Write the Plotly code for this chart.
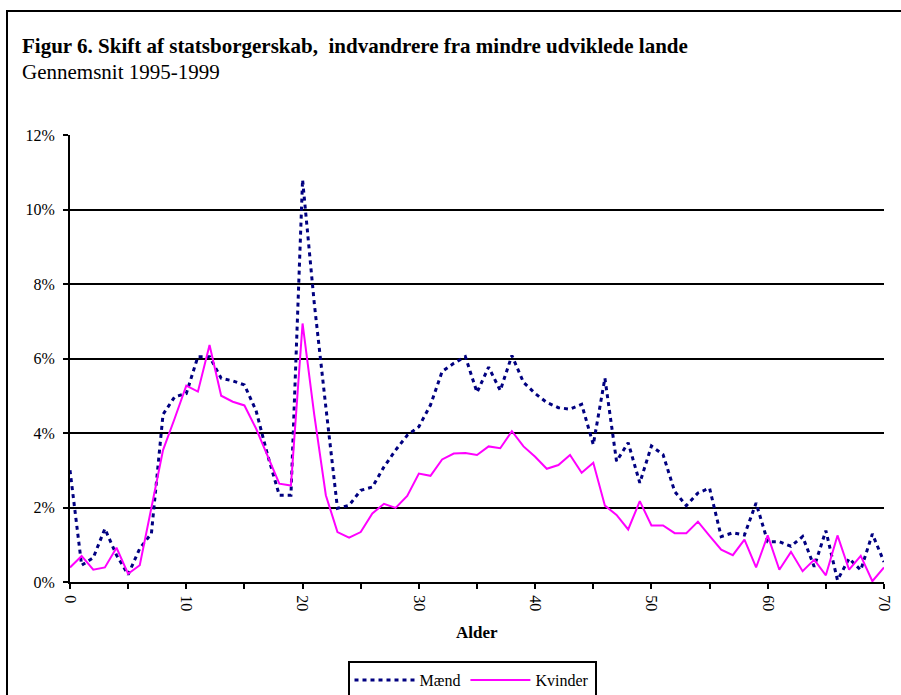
import plotly.graph_objects as go

ages = list(range(0, 71))
maend = [3.0, 0.45, 0.65, 1.43, 0.72, 0.2, 0.9, 1.3, 4.5, 4.97,
         5.06, 6.05, 6.05, 5.47, 5.4, 5.29, 4.6, 3.4, 2.33, 2.33,
         10.8, 7.5, 4.7, 1.98, 2.06, 2.46, 2.55, 3.09, 3.54, 3.94,
         4.17, 4.75, 5.65, 5.87, 6.05, 5.09, 5.77, 5.14, 6.08, 5.36,
         5.06, 4.82, 4.68, 4.64, 4.77, 3.69, 5.47, 3.24, 3.74, 2.66,
         3.65, 3.42, 2.43, 2.05, 2.39, 2.52, 1.22, 1.32, 1.26, 2.12,
         1.08, 1.08, 0.96, 1.22, 0.41, 1.38, 0.05, 0.63, 0.32, 1.29, 0.54]
kvinder = [0.39, 0.7, 0.33, 0.39, 0.92, 0.22, 0.45, 2.0, 3.54, 4.39,
           5.27, 5.11, 6.36, 5.0, 4.84, 4.74, 4.12, 3.38, 2.64, 2.59,
           6.94, 4.5, 2.33, 1.34, 1.19, 1.34, 1.84, 2.1, 1.99, 2.31,
           2.91, 2.85, 3.29, 3.45, 3.46, 3.41, 3.64, 3.59, 4.05, 3.64,
           3.36, 3.04, 3.14, 3.41, 2.93, 3.2, 2.05, 1.8, 1.41, 2.17,
           1.52, 1.52, 1.31, 1.31, 1.62, 1.24, 0.87, 0.72, 1.14, 0.39,
           1.25, 0.33, 0.81, 0.29, 0.6, 0.18, 1.25, 0.33, 0.7, 0.02, 0.39]
y_ticks = [0, 2, 4, 6, 8, 10, 12]
y_tick_labels = ["0%", "2%", "4%", "6%", "8%", "10%", "12%"]
x_ticks = [0, 10, 20, 30, 40, 50, 60, 70]

FONT = "Liberation Serif, Times New Roman, serif"
W, H = 901, 695
ML, MR, MT, MB = 70, 17, 135, 113
PW = W - ML - MR
PH = H - MT - MB


def px_x(x):
    return (x - ML) / PW


def px_y(y):
    return (H - MB - y) / PH


fig = go.Figure()
fig.add_trace(go.Scatter(x=ages, y=maend, mode="lines", name="Mænd",
                         line=dict(color="#000080", width=3, dash="4px,4px")))
fig.add_trace(go.Scatter(x=ages, y=kvinder, mode="lines", name="Kvinder",
                         line=dict(color="#FF00FF", width=2)))

fig.update_layout(
    width=W, height=H,
    margin=dict(l=ML, r=MR, t=MT, b=MB, autoexpand=False),
    paper_bgcolor="white", plot_bgcolor="white",
    font=dict(family=FONT, size=16, color="black"),
    showlegend=True,
    legend=dict(orientation="h", x=px_x(472), xanchor="center",
                y=px_y(661), yanchor="top",
                bordercolor="black", borderwidth=2,
                font=dict(family=FONT, size=16, color="black"),
                itemwidth=60, bgcolor="white"),
    xaxis=dict(range=[0, 70], tickvals=x_ticks, tickangle=90,
               ticks="outside", ticklen=5, tickwidth=2, tickcolor="black",
               minor=dict(dtick=5, ticks="outside", ticklen=5, tickwidth=2, tickcolor="black"),
               showline=True, linecolor="black", linewidth=2,
               showgrid=False, zeroline=False, automargin=False,
               ticklabelstandoff=3,
               tickfont=dict(family=FONT, size=16)),
    yaxis=dict(range=[0, 12], tickvals=y_ticks, ticktext=y_tick_labels,
               ticks="outside", ticklen=5, tickwidth=2, tickcolor="black",
               showline=True, linecolor="black", linewidth=2,
               showgrid=True, gridcolor="black", gridwidth=1.5,
               zeroline=False, automargin=False, ticklabelstandoff=5,
               tickfont=dict(family=FONT, size=16)),
    shapes=[dict(type="rect", xref="paper", yref="paper",
                 x0=px_x(7), x1=px_x(930), y0=px_y(11), y1=px_y(730),
                 line=dict(color="black", width=2), layer="below")],
    annotations=[
        dict(text="<b>Figur 6. Skift af statsborgerskab,  indvandrere fra mindre udviklede lande</b>",
             xref="paper", yref="paper", x=px_x(20), y=px_y(46),
             xanchor="left", yanchor="middle", showarrow=False,
             font=dict(family=FONT, size=21, color="black")),
        dict(text="Gennemsnit 1995-1999",
             xref="paper", yref="paper", x=px_x(20), y=px_y(72),
             xanchor="left", yanchor="middle", showarrow=False,
             font=dict(family=FONT, size=21, color="black")),
        dict(text="<b>Alder</b>",
             xref="paper", yref="paper", x=0.5, y=px_y(632),
             xanchor="center", yanchor="middle", showarrow=False,
             font=dict(family=FONT, size=17, color="black")),
    ],
)

fig.write_html("out.html", config={"displayModeBar": False},
               post_script="document.body.style.margin='0';document.body.style.overflow='hidden';")
